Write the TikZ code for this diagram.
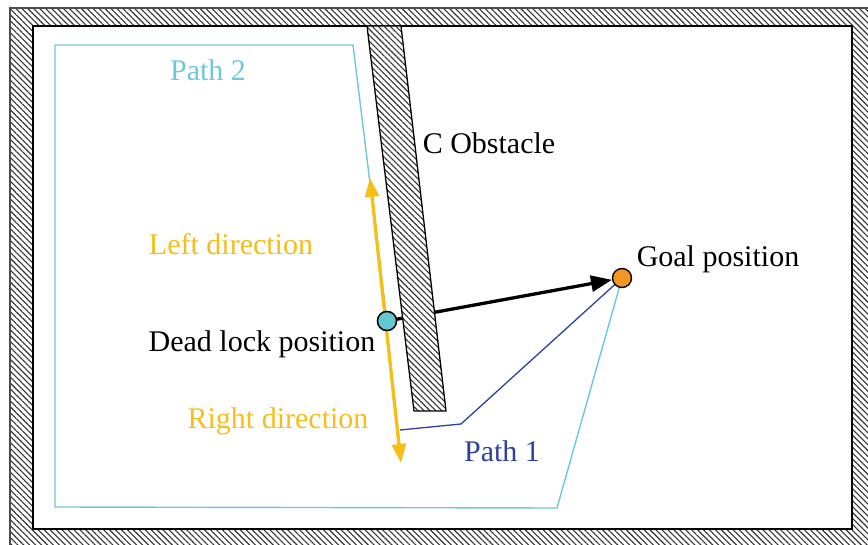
\documentclass[tikz,border=0pt]{standalone}
\usepackage{fontspec}
\setmainfont{Liberation Serif}
\usetikzlibrary{patterns.meta,arrows.meta}
\definecolor{cpath}{RGB}{110,200,215}
\definecolor{cyel}{RGB}{245,190,25}
\definecolor{cblue}{RGB}{45,65,160}
\definecolor{corange}{RGB}{245,150,35}
\definecolor{cteal}{RGB}{100,200,210}
\tikzset{
  hatch/.style={pattern={Lines[angle=-45,distance=4.2pt,line width=1.1pt]},pattern color=black!80},
  lbl/.style={font=\fontsize{30}{35}\selectfont,inner sep=0pt},
  dot/.style={circle,draw=black,line width=1.4pt,minimum size=19pt,inner sep=0pt}
}
\begin{document}
\begin{tikzpicture}[x=1pt,y=-1pt]
\useasboundingbox (0,0) rectangle (868,545);
% frame
\path[hatch,even odd rule] (10,8) rectangle (875,552) (33,26) rectangle (852,529);
\draw[black!70,line width=1.5pt] (10,552) -- (10,8) -- (875,8);
\draw[black,line width=2.2pt] (33,26) rectangle (852,529);
% coordinates
\coordinate (dl) at (387,321);
\coordinate (g) at (622,278);
\coordinate (p2a) at (55,45);
\coordinate (p2b) at (353,45);
\coordinate (p2c) at (55,507);
\coordinate (p2d) at (557,508);
\coordinate (p1a) at (400,430);
\coordinate (p1b) at (461,424);
\coordinate (ya) at (370,178);
\coordinate (yb) at (401,463);
% paths
\draw[cpath,line width=1.4pt] (dl) -- (p2b) -- (p2a) -- (p2c) -- (p2d) -- (g);
\draw[cblue,line width=1.3pt] (p1a) -- (p1b) -- (g);
\draw[cyel,line width=3.3pt,{Triangle[length=19pt,width=14pt]}-{Triangle[length=19pt,width=14pt]}] (ya) -- (yb);
% circles and arrow
\node[dot,fill=cteal] (dln) at (dl) {};
\node[dot,fill=corange] (gn) at (g) {};
\draw[black,line width=3.3pt,-{Triangle[length=21pt,width=16pt]}] (dln) -- (gn);
% obstacle
\fill[white] (367,26) -- (401,26) -- (446,411) -- (414,411) -- cycle;
\draw[hatch,draw=black,line width=1.3pt] (367,26) -- (401,26) -- (446,411) -- (414,411) -- cycle;
\node[dot,fill=cteal] at (dl) {};
% labels
\node[lbl,text=cpath] (t1) at (208,70) {Path 2};
\node[lbl] (t2) at (489,143) {C Obstacle};
\node[lbl,text=cyel] (t3) at (231,244) {Left direction};
\node[lbl] (t4) at (718,259) {Goal position};
\node[lbl] (t5) at (262,344) {Dead lock position};
\node[lbl,text=cyel] (t6) at (278,421) {Right direction};
\node[lbl,text=cblue] (t7) at (502,451) {Path 1};
\end{tikzpicture}
\end{document}
